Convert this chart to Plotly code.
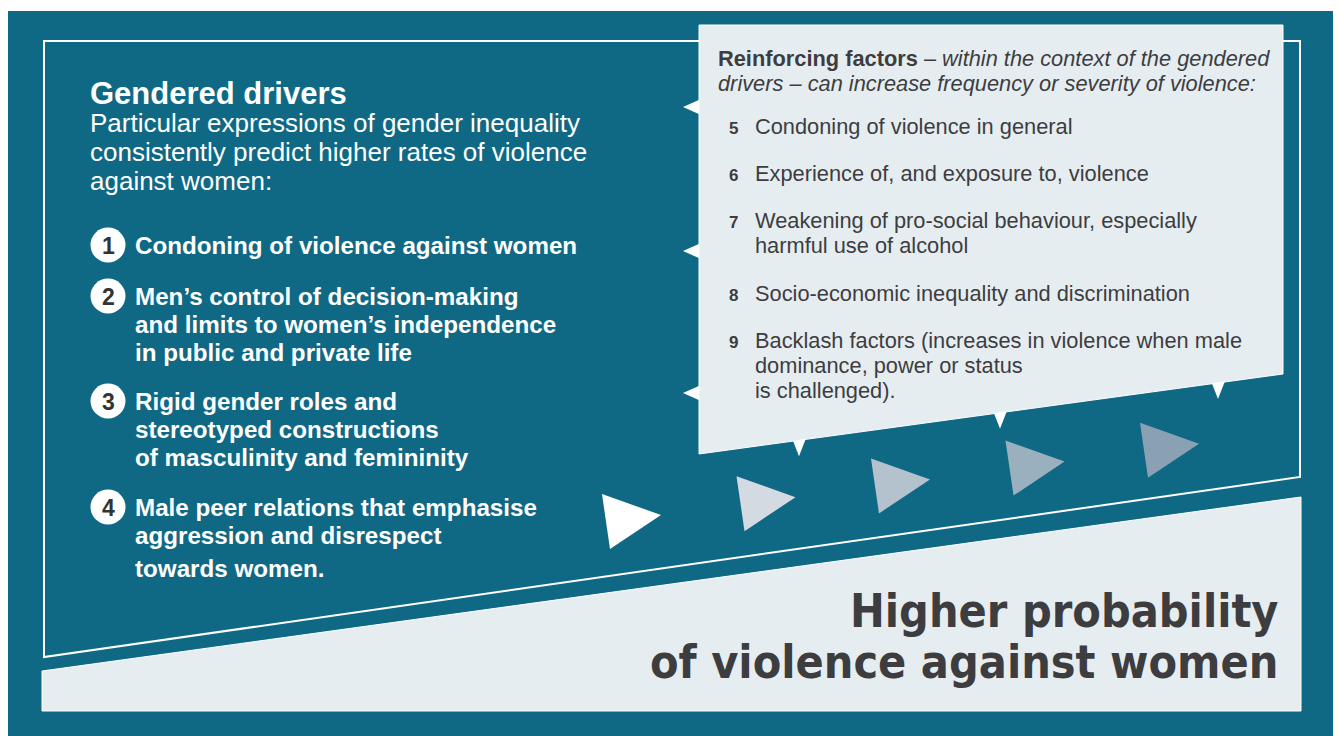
import plotly.graph_objects as go

# ---- content ----
driver_title = "Gendered drivers"
driver_intro = [
    "Particular expressions of gender inequality",
    "consistently predict higher rates of violence",
    "against women:",
]
driver_nums = ["1", "2", "3", "4"]
driver_items = [
    ["Condoning of violence against women"],
    ["Men’s control of decision-making",
     "and limits to women’s independence",
     "in public and private life"],
    ["Rigid gender roles and",
     "stereotyped constructions",
     "of masculinity and femininity"],
    ["Male peer relations that emphasise",
     "aggression and disrespect",
     "towards women."],
]
reinf_head = [
    "<b>Reinforcing factors</b> – <i>within the context of the gendered</i>",
    "<i>drivers – can increase frequency or severity of violence:</i>",
]
reinf_nums = ["5", "6", "7", "8", "9"]
reinf_items = [
    ["Condoning of violence in general"],
    ["Experience of, and exposure to, violence"],
    ["Weakening of pro-social behaviour, especially",
     "harmful use of alcohol"],
    ["Socio-economic inequality and discrimination"],
    ["Backlash factors (increases in violence when male",
     "dominance, power or status",
     "is challenged)."],
]
outcome = ["Higher probability", "of violence against women"]
arrow_colors = ["#ffffff", "#d4dae2", "#b3c2cd", "#9bb0bf", "#8aa1b3"]

# ---- styling ----
TEAL = "#106984"
LIGHT = "#e6edf1"
DARK = "#3d3d40"
BODY = "Liberation Sans, Arial, sans-serif"
NARROW = "DejaVu Sans Condensed, Liberation Sans Narrow, sans-serif"

W, H = 1341, 736
OFF = 8  # page offset of the figure (body margin)
fig = go.Figure()
shapes = []
ann = []


def poly(pts, fill, line_color=None, lw=0):
    d = "M " + " L ".join(f"{x},{y}" for x, y in pts) + " Z"
    shapes.append(dict(type="path", path=d, xref="x", yref="y",
                       fillcolor=fill,
                       line=dict(color=line_color or fill, width=lw)))


def text(x, y, s, size, color, family=BODY, anchor="left"):
    ann.append(dict(x=x, y=y, xref="x", yref="y", text=s, showarrow=False,
                    xanchor=anchor, yanchor="middle",
                    font=dict(size=size, color=color, family=family)))


# background panel
shapes.append(dict(type="rect", x0=8, y0=11, x1=W + OFF, y1=H + OFF,
                   xref="x", yref="y", fillcolor=TEAL, line=dict(width=0)))
# outline frame
shapes.append(dict(type="path", path="M 44,41 L 1300,41 L 1300,477 L 44,657 Z",
                   xref="x", yref="y", fillcolor="rgba(0,0,0,0)",
                   line=dict(color="white", width=2)))
# bottom outcome band
poly([(42, 671), (1301, 497), (1301, 711), (42, 711)], LIGHT, "white", 1)

# arrows along the slope
for k, c in enumerate(arrow_colors):
    x0 = 602 + 134.5 * k
    y0 = 494 - 17.8 * k
    poly([(x0, y0), (x0 + 59, y0 + 21), (x0 + 8, y0 + 55)], c)

# callout box with notches
box_l, box_r, box_t, box_bl, box_br = 699, 1283, 25, 454, 374
for ny in [107, 251, 393]:
    poly([(box_l + 2, ny - 8), (683, ny), (box_l + 2, ny + 8)], "white")
for nx in [799, 1000, 1218]:
    ey = box_bl + (box_br - box_bl) * (nx - box_l) / (box_r - box_l)
    poly([(nx - 7, ey - 2), (nx + 7, ey - 2), (nx, ey + 16)], "white")
poly([(box_l, box_t), (box_r, box_t), (box_r, box_br), (box_l, box_bl)],
     LIGHT, "white", 1)

# left column text
text(88, 93, "<b>" + driver_title + "</b>", 31, "white")
for i, line in enumerate(driver_intro):
    text(88, 123 + 29 * i, line, 26, "white")

item_y = [245, 296, 401, 507]
for num, lines, y in zip(driver_nums, driver_items, item_y):
    shapes.append(dict(type="circle", xref="x", yref="y",
                       x0=108 - 17.5, x1=108 + 17.5, y0=y - 17.5, y1=y + 17.5,
                       fillcolor="white", line=dict(width=0)))
    text(108, y + 1, "<b>" + num + "</b>", 23, "#333333", anchor="center")
    for j, line in enumerate(lines):
        extra = 5 if (j == 2 and num == "4") else 0
        text(133, y + 28 * j + extra, "<b>" + line + "</b>", 24.2, "white")

# callout text
for i, line in enumerate(reinf_head):
    text(716, 58 + 25 * i, line, 21.8, DARK)

reinf_y = [126, 173, 220, 293, 340]
for num, lines, y in zip(reinf_nums, reinf_items, reinf_y):
    text(733, y + 2, "<b>" + num + "</b>", 17, DARK, anchor="center")
    for j, line in enumerate(lines):
        text(753, y + 25 * j, line, 21.8, DARK)

# outcome headline
text(1280, 611, "<b>" + outcome[0] + "</b>", 46.3, DARK, family=NARROW, anchor="right")
text(1280, 662, "<b>" + outcome[1] + "</b>", 46.3, DARK, family=NARROW, anchor="right")

fig.update_layout(
    width=W, height=H,
    margin=dict(l=0, r=0, t=0, b=0),
    paper_bgcolor="white", plot_bgcolor="white",
    xaxis=dict(range=[OFF, W + OFF], visible=False, fixedrange=True),
    yaxis=dict(range=[H + OFF, OFF], visible=False, fixedrange=True),
    shapes=shapes, annotations=ann, showlegend=False,
)
fig.write_html("out.html")
